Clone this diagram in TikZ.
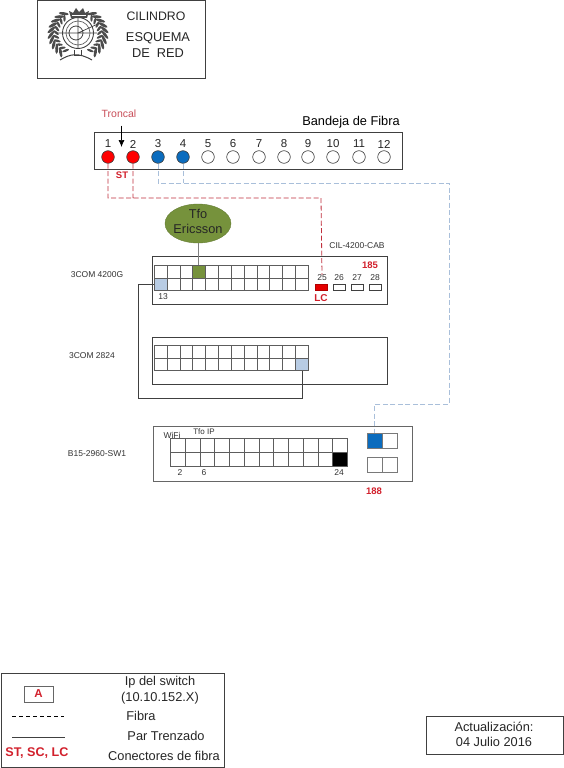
\documentclass[tikz,border=0pt]{standalone}
\usepackage{fontspec}
\usetikzlibrary{arrows.meta,shapes.geometric}
\setmainfont{Liberation Sans}
\definecolor{fibred}{HTML}{C02F3C}
\definecolor{fiblue}{HTML}{A9BFDA}
\definecolor{portblue}{HTML}{B8CCE4}
\definecolor{solidblue}{HTML}{0B6CBE}
\definecolor{olive}{HTML}{76923C}
\definecolor{boxline}{HTML}{404040}
\definecolor{txtred}{HTML}{D2202C}
\tikzset{
  panel/.style={draw=boxline,line width=0.9pt,inner sep=0pt},
  cell/.style={draw=boxline!85,line width=0.8pt,inner sep=0pt,anchor=north west,fill=white},
  fport/.style={circle,draw=boxline,line width=0.6pt,minimum size=12.6pt,inner sep=0pt},
  redport/.style={fport,fill=red},
  blueport/.style={fport,fill=solidblue},
  trayno/.style={font=\fontsize{11.5}{12}\selectfont,text=black!85,inner sep=0pt},
  lab/.style={font=\fontsize{8.5}{9}\selectfont,text=black!80,inner sep=0pt},
  redlab/.style={font=\fontsize{9.5}{10}\selectfont\bfseries,text=txtred,inner sep=0pt},
  big/.style={font=\fontsize{12.8}{14}\selectfont,text=black!85,inner sep=0pt},
  redfib/.style={draw=fibred,line width=0.8pt,dash pattern=on 5pt off 2.5pt},
  bluefib/.style={draw=fiblue,line width=0.9pt,dash pattern=on 5pt off 2.5pt},
  tp/.style={draw=boxline,line width=0.8pt},
  leaf/.style={fill=black!70,draw=none},
  sfpslot/.style={draw=boxline,line width=0.6pt,inner sep=0pt,minimum width=12pt,minimum height=6pt,fill=white}
}
\begin{document}
\begin{tikzpicture}[x=1pt,y=-1pt]
\useasboundingbox (0,0) rectangle (564,768);
\fill[white] (0,0) rectangle (564,768);

% ---- title block
\node[panel,minimum width=168pt,minimum height=77pt,anchor=north west] (title) at (36.5,0.5) {};
% logo
\foreach \a in {122,134,...,240}{
  \fill[leaf] ({78+27*cos(\a)},{34-24*sin(\a)}) ellipse[x radius=5pt,y radius=1.5pt,rotate=\a+50];
  \fill[leaf] ({78+22*cos(\a+6)},{34-20*sin(\a+6)}) ellipse[x radius=3.5pt,y radius=1.2pt,rotate=\a-30];
}
\foreach \a in {58,46,...,-60}{
  \fill[leaf] ({78+27*cos(\a)},{34-24*sin(\a)}) ellipse[x radius=5pt,y radius=1.5pt,rotate=\a-50];
  \fill[leaf] ({78+22*cos(\a-6)},{34-20*sin(\a-6)}) ellipse[x radius=3.5pt,y radius=1.2pt,rotate=\a+30];
}
\draw[black!75,line width=0.9pt] (78,33) circle[radius=15.5pt];
\draw[black!60,line width=0.7pt] (78,33) circle[radius=12pt];
\draw[black!75,line width=0.8pt] (76,33) circle[radius=7pt];
\draw[black!75,line width=0.7pt] (56,33) -- (97,33) (78,18) -- (78,49) (78,33) -- (100,23);
\fill[black!70] (71,18) -- (69,11) -- (73,13) -- (76,8) -- (79,12) -- (83,8) -- (85,13) -- (89,11) -- (87,18) -- cycle;
\fill[white] (72,15) rectangle (86,16);
\draw[black!75,line width=1pt] (60,60) .. controls (70,54) and (78,52) .. (92,60);
\draw[black!75,line width=1pt] (74,50) -- (74,56) -- (81,56) -- (81,50);
\node[big,font=\fontsize{12.3}{14}\selectfont] (t1) at (156,16) {CILINDRO};
\node[big] (t2) at (158,38) {ESQUEMA};
\node[big] (t3) at (158,53) {DE\ \ RED};

% ---- fibre tray
\node[panel,minimum width=308.5pt,minimum height=37pt,anchor=north west] (tray) at (93.5,132) {};
\node[big,text=black] (traytitle) at (351,122) {Bandeja de Fibra};
\node[font=\fontsize{10.5}{12}\selectfont,text=fibred!85,inner sep=0pt] (troncal) at (119,114) {Troncal};
\foreach \n/\x/\st in {1/108/redport,2/133/redport,3/158/blueport,4/183/blueport,5/208/fport,6/233/fport,7/259/fport,8/284/fport,9/308/fport,10/333/fport,11/359/fport,12/384/fport}{
  \node[\st] (c\n) at (\x,157) {};
  \node[trayno] (n\n) at (\x,144) {\n};
}
\coordinate (arrowtop) at (121.5,125.5);
\coordinate (arrowtip) at (121.5,147);
\draw[-{Latex[length=7pt,width=6pt]},black,line width=0.7pt] (arrowtop) -- (arrowtip);
\node[redlab] (st) at (122,175.5) {ST};

% ---- green endpoint
\node[ellipse,draw=olive!85!black,fill=olive,minimum width=66pt,minimum height=39pt,inner sep=0pt] (eric) at (198,223.5) {};
\node[big,align=center,font=\fontsize{12.8}{15}\selectfont] (ericlab) at (198,221.5) {Tfo\\Ericsson};

% ---- switch 1
\node[panel,minimum width=235pt,minimum height=48pt,anchor=north west] (sw1) at (151.5,256) {};
\foreach \i in {1,...,12}{
  \pgfmathsetmacro{\xx}{154+(\i-1)*12.83}
  \node[cell,minimum width=12.83pt,minimum height=12.5pt] (a\i) at (\xx,265) {};
  \node[cell,minimum width=12.83pt,minimum height=12.5pt] (b\i) at (\xx,277.5) {};
}
\node[cell,minimum width=12.83pt,minimum height=12.5pt,fill=olive] (green) at (a4.north west) {};
\node[cell,minimum width=12.83pt,minimum height=12.5pt,fill=portblue] (p13) at (b1.north west) {};
\node[lab] (l13) at (163,297) {13};
\node[lab] (l25) at (322,278) {25};
\node[lab] (l26) at (339,278) {26};
\node[lab] (l27) at (357,278) {27};
\node[lab] (l28) at (375,278) {28};
\node[sfpslot,fill=red!90!black,draw=red!70!black] (p25) at (321,287) {};
\node[sfpslot] (p26) at (339,287) {};
\node[sfpslot] (p27) at (357,287) {};
\node[sfpslot] (p28) at (375,287) {};
\node[redlab,font=\fontsize{10}{11}\selectfont\bfseries] (lc) at (321,298) {LC};
\node[redlab] (r185) at (370,265) {185};
\node[lab] (cab) at (357,246) {CIL-4200-CAB};
\node[lab] (n4200) at (97,275) {3COM 4200G};

% ---- switch 2
\node[panel,minimum width=235pt,minimum height=47.5pt,anchor=north west] (sw2) at (151.5,336.5) {};
\foreach \i in {1,...,12}{
  \pgfmathsetmacro{\xx}{154+(\i-1)*12.83}
  \node[cell,minimum width=12.83pt,minimum height=12.5pt] (d\i) at (\xx,345) {};
  \node[cell,minimum width=12.83pt,minimum height=12.5pt] (e\i) at (\xx,357.5) {};
}
\node[cell,minimum width=12.83pt,minimum height=12.5pt,fill=portblue] (p24) at (e12.north west) {};
\node[lab] (n2824) at (92,356) {3COM 2824};

% ---- switch 3
\node[panel,draw=boxline!80,minimum width=259pt,minimum height=55pt,anchor=north west] (sw3) at (153,426) {};
\foreach \i in {1,...,12}{
  \pgfmathsetmacro{\xx}{170+(\i-1)*14.75}
  \node[cell,minimum width=14.75pt,minimum height=14pt] (f\i) at (\xx,438) {};
  \node[cell,minimum width=14.75pt,minimum height=14pt] (g\i) at (\xx,452) {};
}
\node[cell,minimum width=14.75pt,minimum height=14pt,fill=black] (gblack) at (g12.north west) {};
\node[lab] (wifi) at (172,435) {WiFi};
\node[lab,font=\fontsize{8}{9}\selectfont] (tfoip) at (204,432) {Tfo IP};
\node[lab] (l2) at (180,473) {2};
\node[lab] (l6) at (204,473) {6};
\node[lab] (l24) at (339,473) {24};
\node[cell,draw=boxline!70,minimum width=15pt,minimum height=14.5pt,fill=solidblue] (u1) at (367,433) {};
\node[cell,draw=boxline!70,minimum width=15pt,minimum height=14.5pt] (u2) at (382,433) {};
\node[cell,draw=boxline!70,minimum width=15pt,minimum height=14.5pt] (v1) at (367,457) {};
\node[cell,draw=boxline!70,minimum width=15pt,minimum height=14.5pt] (v2) at (382,457) {};
\node[redlab] (r188) at (374,491) {188};
\node[lab] (b15) at (97,454) {B15-2960-SW1};

% ---- connectors
\coordinate (rturn) at (321,198);
\draw[redfib] (c1.south) |- (rturn) -- (l25.north) (c2.south) -- (c2.south |- rturn);
\coordinate (bturn) at (449,183);
\coordinate (bturn2) at (449,404);
\draw[bluefib] (c3.south) |- (bturn) -- (bturn2) -| (u1.north) (c4.south) -- (c4.south |- bturn);
\draw[draw=gray,line width=1pt] (eric.south) -- (eric.south |- green.north);
\coordinate (tl) at (138,398);
\draw[tp] (p13.west) -| (tl) -| (p24.south);

% ---- legend
\node[panel,minimum width=223pt,minimum height=94pt,anchor=north west] (legend) at (0.5,673) {};
\node[draw=boxline!80,line width=0.6pt,minimum width=29pt,minimum height=16pt,inner sep=0pt,font=\fontsize{11.5}{12}\selectfont\bfseries,text=txtred] (akey) at (38.5,694) {A};
\coordinate (fa) at (12,716);
\coordinate (fb) at (64,716);
\draw[black,line width=0.6pt,dash pattern=on 4pt off 3pt] (fa) -- (fb);
\coordinate (ta) at (12,737);
\coordinate (tb) at (65,737);
\draw[boxline,line width=0.6pt] (ta) -- (tb);
\node[redlab,font=\fontsize{12.6}{14}\selectfont\bfseries] (conn) at (37,753) {ST, SC, LC};
\node[big] (k1) at (160,682) {Ip del switch};
\node[big] (k2) at (160,698) {(10.10.152.X)};
\node[big] (k3) at (141,716) {Fibra};
\node[big] (k4) at (166,736) {Par Trenzado};
\node[big] (k5) at (164,756) {Conectores de fibra};

% ---- date
\node[panel,minimum width=137.5pt,minimum height=38pt,anchor=north west] (date) at (425.5,716) {};
\node[big] (d1) at (494,727) {Actualización:};
\node[big] (d2) at (494,741.5) {04 Julio 2016};
\end{tikzpicture}
\end{document}
